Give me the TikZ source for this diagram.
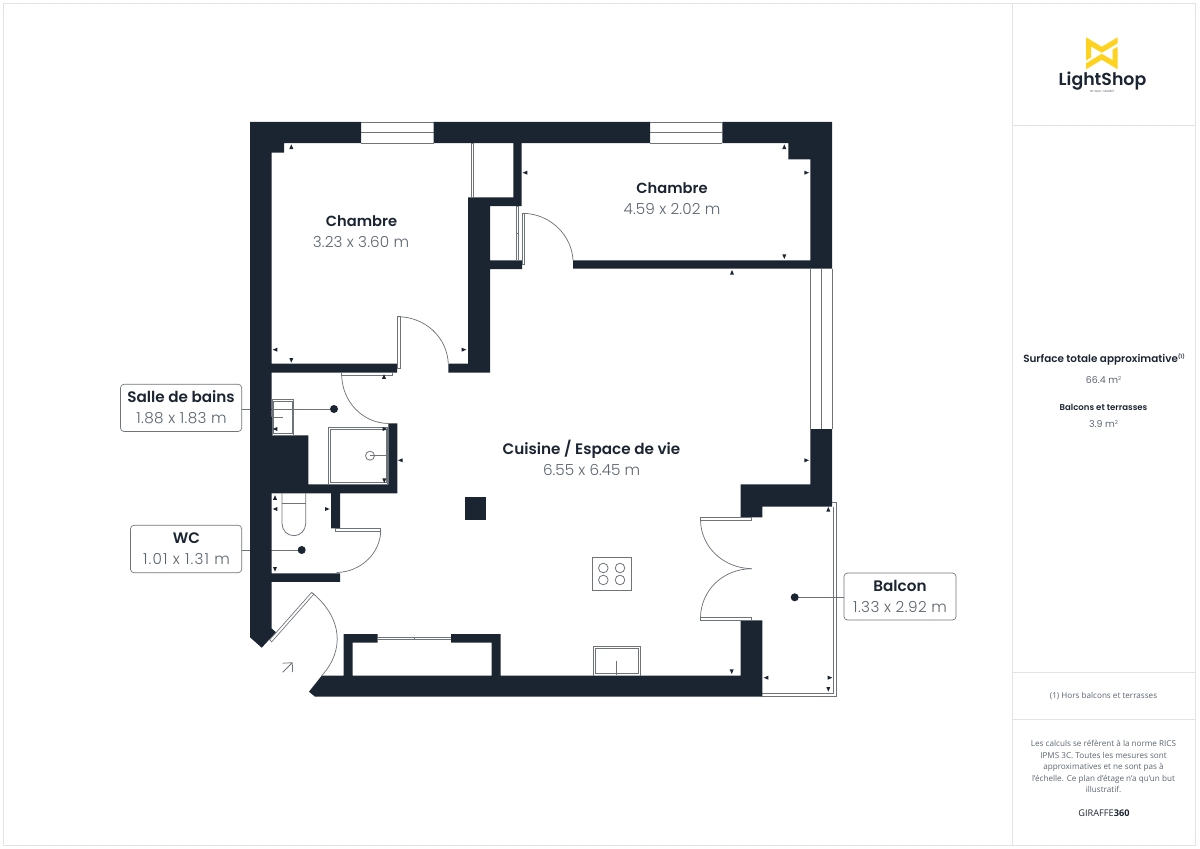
\documentclass[tikz,border=0pt]{standalone}
\usepackage{fontspec}
\setmainfont{Poppins}[UprightFont=*,BoldFont=* SemiBold]
\newfontfamily\osans{Open Sans}
\newfontfamily\plight{Poppins Light}
\definecolor{wall}{HTML}{1B2431}
\definecolor{fix}{HTML}{6E747B}
\definecolor{sub}{HTML}{5B6570}
\definecolor{frameg}{HTML}{E2E3E5}
\definecolor{logoy}{HTML}{FFD21F}
\tikzset{
 wallfill/.style={fill=wall,draw=none},
 fixline/.style={draw=fix,line width=0.6pt},
 leaf/.style={draw=fix,line width=0.5pt,fill=white},
 arcline/.style={draw=fix,line width=0.55pt},
 leader/.style={draw=fix,line width=0.6pt},
 dotnode/.style={circle,fill=wall,inner sep=0pt,minimum size=6pt},
 callout/.style={draw=fix,line width=0.5pt,rounded corners=2.6pt,fill=white},
 roomname/.style={font=\bfseries\fontsize{11.4}{13}\selectfont,text=wall,inner sep=0pt},
 roomsize/.style={font=\plight\fontsize{11.4}{13}\selectfont,text=sub,inner sep=0pt},
 tri/.style={fill=wall,draw=none},
 side/.style={font=\osans\fontsize{6.1}{8.7}\selectfont,text=sub,inner sep=0pt,align=center},
}
\newcommand{\mku}[2]{\fill[tri] (#1-2,#2+2.3)--(#1+2,#2+2.3)--(#1,#2-2.3)--cycle;}
\newcommand{\mkd}[2]{\fill[tri] (#1-2,#2-2.3)--(#1+2,#2-2.3)--(#1,#2+2.3)--cycle;}
\newcommand{\mkl}[2]{\fill[tri] (#1+2.3,#2-2)--(#1+2.3,#2+2)--(#1-2.3,#2)--cycle;}
\newcommand{\mkr}[2]{\fill[tri] (#1-2.3,#2-2)--(#1-2.3,#2+2)--(#1+2.3,#2)--cycle;}
\newcommand{\spc}[1]{\addfontfeature{LetterSpace=#1}}
\begin{document}
\begin{tikzpicture}[x=0.75pt,y=-0.75pt]
\useasboundingbox (0,0) rectangle (1200,849);
% frame
\draw[frameg,line width=0.7pt] (3,3) rectangle (1195.5,845.5);
\draw[frameg,line width=0.7pt] (1012,3)--(1012,845.5) (1012,125)--(1195.5,125) (1012,672.5)--(1195.5,672.5) (1012,719.5)--(1195.5,719.5);
% leaders (behind walls)
\coordinate (dotB) at (334,409); \coordinate (dotW) at (301.7,550); \coordinate (dotL) at (794.7,597.3);
\draw[leader] (242,409)--(dotB);
\draw[leader] (242,550)--(dotW);
\draw[leader] (dotL)--(844,597.3);
% balcony
\draw[fixline] (832,502.7)--(836.3,502.7)--(836.3,696.7)--(762,696.7);
\draw[fixline] (833.3,506.7)--(833.3,693.3)--(762,693.3);
% windows
\foreach \a/\b in {361/433.7,650/722.3}{
 \draw[fixline] (\a,122)--(\b,122) (\a,132.5)--(\b,132.5) (\a,143)--(\b,143);
}
\draw[fixline] (810.3,268.7)--(810.3,429) (821,268.7)--(821,429) (832,268.7)--(832,429);
\draw[fixline] (377.7,637.3)--(451,637.3) (377.7,639.5)--(451,639.5) (414,636.5)--(414,640.3);
% walls
\fill[wallfill] (250,122)--(361,122)--(361,143)--(284,143)--(284,152.7)--(271.5,152.7)--(271.5,363.7)--(397,363.7)--(397,372.7)--(271.5,372.7)--(271.5,399)--(272,435.3)--(308.3,435.3)--(308.3,484.3)--(388.3,484.3)--(388.3,423.3)--(397.3,423.3)--(397.3,493.3)--(340,493.3)--(340,528.3)--(331,528.3)--(331,493.3)--(271.5,493.3)--(271.5,573.3)--(340,573.3)--(340,581.8)--(271.5,581.8)--(271.5,628.3)--(276,632.3)--(261.7,647.7)--(250,637.3)--cycle;
\fill[wallfill] (433.7,122)--(650,122)--(650,143)--(521.7,143)--(521.7,206)--(490,206)--(490,260.3)--(522,260.3)--(522,269)--(490,269)--(490,372.7)--(448.3,372.7)--(448.3,363.7)--(468,363.7)--(468,197.3)--(513.3,197.3)--(513.3,143)--(433.7,143)--cycle;
\fill[wallfill] (722.3,122)--(832,122)--(832,268.7)--(573,268.7)--(573,260.3)--(810.3,260.3)--(810.3,159.3)--(788.3,159.3)--(788.3,143)--(722.3,143)--cycle;
\fill[wallfill] (810.3,429)--(832,429)--(832,506.7)--(762.3,506.7)--(762.3,517.3)--(740.7,517.3)--(740.7,484.3)--(810.3,484.3)--cycle;
\fill[wallfill] (740.7,620.3)--(762.3,620.3)--(762.3,696.7)--(315,696.7)--(309,691.7)--(321.7,675.7)--(343.7,675.7)--(343.7,634)--(377.7,634)--(377.7,642.7)--(352.7,642.7)--(352.7,675.7)--(491.7,675.7)--(491.7,642.7)--(451,642.7)--(451,634)--(500.7,634)--(500.7,675.7)--(740.7,675.7)--cycle;
\fill[wallfill] (465,497) rectangle (486,520);
% sink bathroom
\draw[fixline] (272.3,399.3) rectangle (293.7,435);
\draw[fixline] (273.8,401) rectangle (292,433.5);
\draw[leader] (272,409)--(dotB);
\draw[fixline] (272,417.5)--(283,417.5);
% shower
\draw[fixline] (328.3,427.3) rectangle (387.7,484);
\draw[fixline] (330,429) rectangle (386,482.5);
\draw[fixline] (370,455.7) circle (4.5);
\draw[fixline] (370,455.7)--(388,455.7);
% toilet
\draw[fixline] (282,493.3)--(282,523.5) arc[start angle=180,end angle=360,x radius=11.85,y radius=-12.2] --(305.7,493.3);
\draw[fixline] (282,503.3)--(305.7,503.3);
% leader WC inside
\draw[leader] (271.5,550)--(dotW);
% doors
\draw[leaf] (397.3,316.7) rectangle (400,368.7);
\draw[arcline] (398,316.7) .. controls (425,317) and (447,337) .. (448.3,363.5);
\draw[leaf] (471.7,143) rectangle (473.7,197.3);
\draw[leaf] (516.7,206) rectangle (518.7,260.3);
\draw[fixline] (516.7,233)--(518.7,233);
\draw[leaf] (522.7,213.3) rectangle (524.3,264.3);
\draw[arcline] (523.5,213.3) .. controls (551,214) and (572,236) .. (573,260.3);
\draw[leaf] (341.7,372.7)--(392.7,372.7)--(392.7,375.3)--(341.7,375.3)--cycle;
\draw[arcline] (341.7,375) .. controls (342,401) and (362,423) .. (388.3,423.5);
\draw[leaf] (335.3,528.5) rectangle (380.7,531);
\draw[arcline] (380.7,530.5) .. controls (380.5,553) and (361,572) .. (336.7,572.5);
\draw[leaf] (269.7,639.8)--(311.7,592.3)--(313.7,594.3)--(271.7,641.8)--cycle;
\draw[arcline] (313,593.5) .. controls (342,618) and (345,650) .. (321.7,675.7);
% double door
\draw[leaf] (700.3,517.3) rectangle (751.7,520.3);
\draw[leaf] (700.3,617.3) rectangle (751.7,620.3);
\draw[arcline] (700.5,520.3) .. controls (701,546) and (722,568) .. (751.7,568.7);
\draw[arcline] (700.5,617.3) .. controls (701,591) and (722,569) .. (751.7,568.7);
% entry arrow
\draw[draw=fix,line width=0.55pt] (282.7,672.3)--(292.3,662.7) (282.7,663.2)--(292.3,662.7)--(292.6,672);
% cooktop
\draw[fixline] (592.3,557.3) rectangle (631,590.7);
\foreach \x in {603.3,620}{\foreach \y in {568,580}{\draw[fixline] (\x,\y) circle (4.8);}}
% kitchen sink
\draw[fixline] (593.3,646.7)--(593.3,675.5) (640,675.5)--(640,646.7)--(593.3,646.7);
\draw[fixline] (595,648.2) rectangle (638.3,673.5);
\draw[fixline] (616.7,661)--(616.7,675);
% dimension markers
\mku{291.3}{146.7}\mkl{275}{349.7}\mkd{291.3}{360.3}\mkr{464}{349.7}\mku{384}{376.5}
\mkl{525}{172.7}
\mku{784.3}{146.7}\mkr{806.7}{172.7}\mkd{784.3}{256.7}\mku{732}{272.3}\mkr{806.7}{460.3}
\mkl{275}{429}\mkr{385}{429}\mkd{384.3}{480.7}\mkl{400.3}{460.3}
\mku{275}{497.5}\mkl{275}{509}\mkr{327.3}{509}\mkd{275}{569.3}
\mku{828.3}{509.3}\mkd{731.7}{671.7}\mkl{766}{677.7}\mkr{830}{677.7}\mkd{828.3}{689.3}
% dots
\node[dotnode] (db) at (dotB) {};
\node[dotnode] (dw) at (dotW) {};
\node[dotnode] (dl) at (dotL) {};
% room labels
\node[roomname,font=\bfseries\fontsize{11}{13}\selectfont] (n1) at (361.5,221) {Chambre};
\node[roomsize] (s1) at (361,242) {\spc{1}3.23 x 3.60 m};
\node[roomname,font=\bfseries\fontsize{11}{13}\selectfont] (n2) at (672,188) {Chambre};
\node[roomsize] (s2) at (672,209) {\spc{1}4.59 x 2.02 m};
\node[roomname] (n3) at (591.5,449) {Cuisine / Espace de vie};
\node[roomsize] (s3) at (591.7,470.3) {6.55 x 6.45 m};
% callouts
\draw[callout] (120.5,384.3) rectangle (241.7,431.5);
\node[roomname] (n4) at (181,397) {Salle de bains};
\node[roomsize] (s4) at (181.5,418.3) {\spc{2.5}1.88 x 1.83 m};
\draw[callout] (130.5,525.3) rectangle (241.7,572.7);
\node[roomname] (n5) at (186.5,538) {WC};
\node[roomsize] (s5) at (186.5,559.3) {\spc{7.6}1.01 x 1.31 m};
\draw[callout] (844,573) rectangle (956,620);
\node[roomname] (n6) at (900,586) {Balcon};
\node[roomsize] (s6) at (900,607) {\spc{3}1.33 x 2.92 m};
% sidebar
\fill[logoy] (1086,37.3)--(1101.8,46.8)--(1117.7,37.3)--(1117.7,43.3)--(1101.8,52.8)--(1091,46.4)--(1091,57.5)--(1086,60.5)--cycle;
\fill[logoy] (1117.7,46.7)--(1117.7,69.3)--(1101.8,59.8)--(1086,69.3)--(1086,63.3)--(1101.8,53.8)--(1112.7,60.2)--(1112.7,49.7)--cycle;
\node[font=\bfseries\fontsize{13}{16}\selectfont,text=wall,inner sep=0pt] (logo) at (1102.5,81.5) {LightShop};
\node[font=\fontsize{2.2}{3}\selectfont,text=sub,inner sep=0pt] (logo2) at (1102.5,91.5) {BY WALL-MARKET};
\node[font=\bfseries\fontsize{7.8}{9}\selectfont,text=wall,inner sep=0pt] (t1) at (1104,359.5) {Surface totale approximative\raisebox{3pt}{\fontsize{3.8}{4}\selectfont (1)}};
\node[font=\fontsize{7.1}{9}\selectfont,text=sub,inner sep=0pt] (t2) at (1103.5,380) {66.4 m\raisebox{2.4pt}{\fontsize{4}{4}\selectfont 2}};
\node[font=\bfseries\fontsize{6.4}{9}\selectfont,text=wall,inner sep=0pt] (t3) at (1103.5,407) {Balcons et terrasses};
\node[font=\fontsize{7.1}{9}\selectfont,text=sub,inner sep=0pt] (t4) at (1103.5,424) {3.9 m\raisebox{2.4pt}{\fontsize{4}{4}\selectfont 2}};
\node[side] (t5) at (1103.5,696) {(1) Hors balcons et terrasses};
\node[side] (t6) at (1103.5,766.7) {Les calculs se réfèrent à la norme RICS\\IPMS 3C. Toutes les mesures sont\\approximatives et ne sont pas à\\l’échelle. Ce plan d’étage n’a qu’un but\\illustratif.};
\node[font=\osans\fontsize{6.9}{8}\selectfont,text=wall,inner sep=0pt] (t7) at (1104,813.5) {GIRAFFE{\bfseries 360}};
\end{tikzpicture}
\end{document}
